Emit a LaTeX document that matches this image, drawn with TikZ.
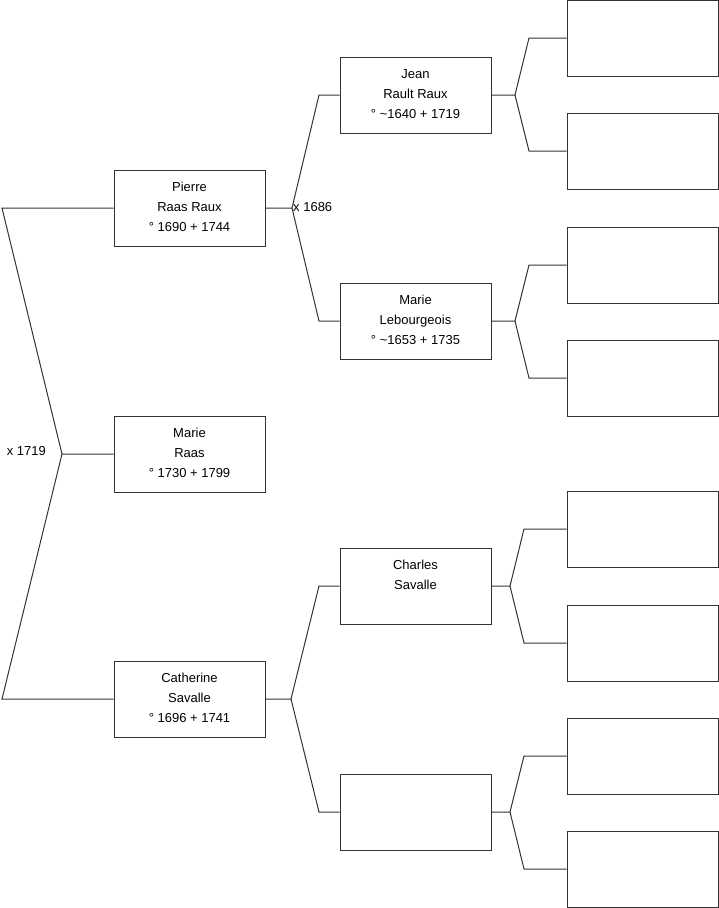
\documentclass[tikz,border=0pt]{standalone}
\usepackage{fontspec}
\setmainfont{Liberation Sans}
\definecolor{ln}{HTML}{333333}
\begin{document}
\begin{tikzpicture}[x=1pt,y=-1pt,
  person/.style={draw=ln,line width=1pt,rectangle,minimum width=151pt,minimum height=76pt,inner sep=0pt},
  ptext/.style={anchor=north,inner sep=0pt,align=center,font=\fontsize{13}{20}\selectfont},
  link/.style={draw=ln,line width=1pt},
  lbl/.style={inner sep=0pt,font=\fontsize{13}{16}\selectfont}]
\useasboundingbox (0,0) rectangle (719,908);
% generation 1
\node[person] (pierre) at (189.5,208) {};
\node[person] (marie) at (189.5,454) {};
\node[person] (cath) at (189.5,699) {};
% generation 2
\node[person] (jean) at (415.5,95) {};
\node[person] (mleb) at (415.5,321) {};
\node[person] (charles) at (415.5,586) {};
\node[person] (empty) at (415.5,812) {};
% generation 3
\node[person] (r1) at (642.5,38) {};
\node[person] (r2) at (642.5,151) {};
\node[person] (r3) at (642.5,265) {};
\node[person] (r4) at (642.5,378) {};
\node[person] (r5) at (642.5,529) {};
\node[person] (r6) at (642.5,643) {};
\node[person] (r7) at (642.5,756) {};
\node[person] (r8) at (642.5,869) {};
% texts
\node[ptext] (tpierre) at ([yshift=-12.6pt]pierre.north) {Pierre\\Raas Raux\\° 1690 + 1744};
\node[ptext] (tmarie) at ([yshift=-12.6pt]marie.north) {Marie\\Raas\\° 1730 + 1799};
\node[ptext] (tcath) at ([yshift=-12.6pt]cath.north) {Catherine\\Savalle\\° 1696 + 1741};
\node[ptext] (tjean) at ([yshift=-12.6pt]jean.north) {Jean\\Rault Raux\\° \textasciitilde1640 + 1719};
\node[ptext] (tmleb) at ([yshift=-12.6pt]mleb.north) {Marie\\Lebourgeois\\° \textasciitilde1653 + 1735};
\node[ptext] (tcharles) at ([yshift=-12.6pt]charles.north) {Charles\\Savalle};
% junction coordinates
\coordinate (j0) at (62,454);
\coordinate (b0a) at (2,208);
\coordinate (b0b) at (2,699);
\coordinate (j1) at (292,208);
\coordinate (b1a) at (319,95);
\coordinate (b1b) at (319,321);
\coordinate (j2) at (291,699);
\coordinate (b2a) at (319,586);
\coordinate (b2b) at (319,812);
\coordinate (j3) at (515,95);
\coordinate (b3a) at (529,38);
\coordinate (b3b) at (529,151);
\coordinate (j4) at (515,321);
\coordinate (b4a) at (529,265);
\coordinate (b4b) at (529,378);
\coordinate (j5) at (510,586);
\coordinate (b5a) at (524,529);
\coordinate (b5b) at (524,643);
\coordinate (j6) at (510,812);
\coordinate (b6a) at (524,756);
\coordinate (b6b) at (524,869);
% connectors
\draw[link] (marie.west) -- (j0) -- (b0a) -- (pierre.west);
\draw[link] (j0) -- (b0b) -- (cath.west);
\draw[link] (pierre.east) -- (j1) -- (b1a) -- (jean.west);
\draw[link] (j1) -- (b1b) -- (mleb.west);
\draw[link] (cath.east) -- (j2) -- (b2a) -- (charles.west);
\draw[link] (j2) -- (b2b) -- (empty.west);
\draw[link] (jean.east) -- (j3) -- (b3a) -- (r1.west);
\draw[link] (j3) -- (b3b) -- (r2.west);
\draw[link] (mleb.east) -- (j4) -- (b4a) -- (r3.west);
\draw[link] (j4) -- (b4b) -- (r4.west);
\draw[link] (charles.east) -- (j5) -- (b5a) -- (r5.west);
\draw[link] (j5) -- (b5b) -- (r6.west);
\draw[link] (empty.east) -- (j6) -- (b6a) -- (r7.west);
\draw[link] (j6) -- (b6b) -- (r8.west);
% marriage labels
\node[lbl,anchor=east] (m0) at (46,451) {x 1719};
\node[lbl,anchor=west] (m1) at (293,207) {x 1686};
\end{tikzpicture}
\end{document}
